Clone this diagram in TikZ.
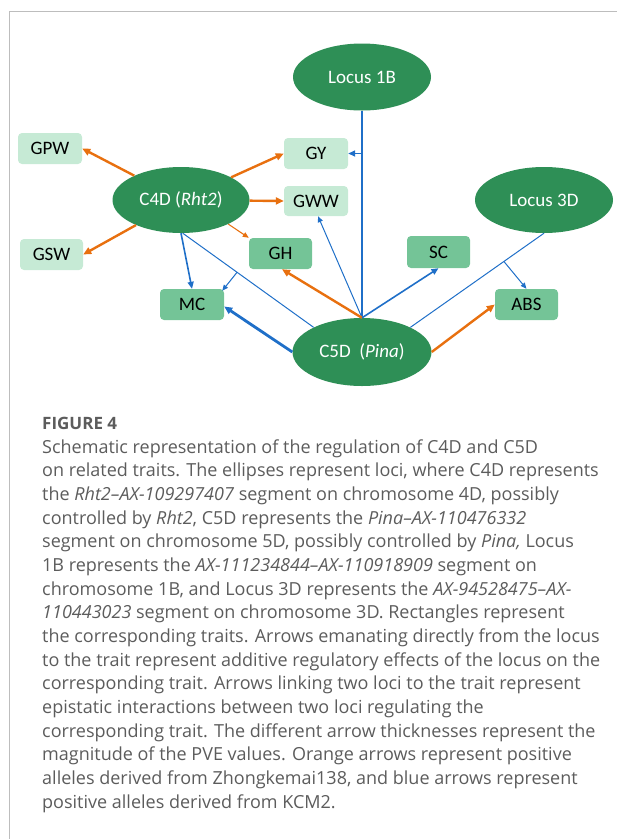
\documentclass[tikz,border=0pt]{standalone}
\usepackage{fontspec}
\setmainfont{Open Sans}
\newfontfamily\labelfont{Carlito}
\usetikzlibrary{shapes.geometric,arrows.meta}
\definecolor{locgreen}{HTML}{2E8F56}
\definecolor{lightbox}{HTML}{C6EAD5}
\definecolor{midbox}{HTML}{74C497}
\definecolor{orng}{HTML}{E8700F}
\definecolor{blu}{HTML}{1F6FC8}
\definecolor{captiongray}{HTML}{5C5C5C}
\definecolor{framegray}{HTML}{BDBDBD}
\tikzset{
  locus/.style={ellipse, fill=locgreen, draw=none, text=white, inner sep=0pt,
    font=\labelfont\fontsize{19}{22}\selectfont},
  traitlight/.style={rectangle, rounded corners=4pt, fill=lightbox, draw=none, inner sep=0pt,
    minimum width=64pt, minimum height=31pt, font=\labelfont\fontsize{19}{22}\selectfont},
  traitmid/.style={traitlight, fill=midbox},
  otip/.style={-{Triangle[length=8pt,width=7pt]}},
  thicko/.style={draw=orng, line width=2.4pt, otip},
  thino/.style={draw=orng, line width=1.1pt, -{Triangle[length=6pt,width=5pt]}},
  thinb/.style={draw=blu, line width=1pt},
  thinbarr/.style={draw=blu, line width=1pt, -{Triangle[length=6pt,width=5pt]}},
  medb/.style={draw=blu, line width=1.6pt, -{Triangle[length=7pt,width=6pt]}},
  thickb/.style={draw=blu, line width=2.8pt, -{Triangle[length=8pt,width=7pt]}},
  capline/.style={anchor=base west, inner sep=0pt, text=captiongray,
    font=\fontsize{18}{20}\selectfont},
}
\begin{document}
\begin{tikzpicture}[x=1pt,y=-1pt]
\useasboundingbox (0,0) rectangle (617,839);
\draw[framegray, line width=1pt] (617,11) -- (9,11) -- (9,839);

% loci
\node[locus, minimum width=138pt, minimum height=67pt] (L1B) at (362,77) {Locus 1B};
\node[locus, minimum width=137pt, minimum height=66pt] (C4D) at (181,200) {C4D (\textit{Rht2})};
\node[locus, minimum width=138pt, minimum height=66pt] (L3D) at (544,200) {Locus 3D};
\node[locus, minimum width=139pt, minimum height=68pt] (C5D) at (362,352) {C5D\ \ (\textit{Pina})};

% traits
\node[traitlight] (GPW) at (50,148.5) {GPW};
\node[traitlight] (GY) at (316,153.5) {GY};
\node[traitlight, minimum height=30pt] (GWW) at (316,201) {GWW};
\node[traitlight, minimum width=63pt] (GSW) at (51.5,254.5) {GSW};
\node[traitmid, minimum width=63pt] (GH) at (280.5,253.5) {GH};
\node[traitmid] (MC) at (192,304.5) {MC};
\node[traitmid, minimum width=63pt, minimum height=32pt] (SC) at (438.5,252) {SC};
\node[traitmid, minimum width=63pt] (ABS) at (526.5,304.5) {ABS};

% C4D additive
\draw[thicko] (C4D) -- (GPW.east);
\draw[thicko] (C4D) -- (GY.west);
\draw[thicko] (C4D) -- (GWW.west);
\draw[thicko] (C4D) -- (GSW.east);
\draw[thino] (C4D.-27) -- (GH.north west);
\draw[medb] (C4D.south) -- (MC.north);

% epistasis C4D x C5D -> MC
\draw[thinb] (C4D.-87) -- coordinate[pos=0.415] (e1) (C5D.153);
\draw[thinbarr] (e1) -- ([xshift=-2pt,yshift=-2pt]MC.north east);

% epistasis Locus1B x C5D -> GY
\draw[blu, line width=1.6pt] (L1B.south) -- (C5D.north);
\coordinate (e2) at (L1B.south |- GY.east);
\draw[medb] (e2) -- (GY.east);

% C5D additive
\draw[thinbarr] (C5D.north) -- ([xshift=2pt]GWW.south);
\draw[thicko] (C5D.north) -- ([xshift=1.5pt]GH.south);
\draw[medb] (C5D.north) -- (SC.south);
\draw[thickb] (C5D.west) -- ([yshift=-2pt]MC.east);
\draw[thicko] (C5D.east) -- (ABS.west);

% epistasis Locus3D x C5D -> ABS
\draw[thinb] (L3D.south) -- coordinate[pos=0.3] (e3) (C5D.27);
\draw[thinbarr] (e3) -- (ABS.north);

% caption
\node[anchor=base west, inner sep=0pt, text=captiongray, font=\bfseries\fontsize{17}{20}\selectfont] (fig) at (42,429) {FIGURE 4};
\node[capline] (c1) at (42,453) {Schematic representation of the regulation of C4D and C5D};
\node[capline] (c2) at (42,476.6) {on related traits. The ellipses represent loci, where C4D represents};
\node[capline] (c3) at (42,500.3) {the \textit{Rht2–AX-109297407} segment on chromosome 4D, possibly};
\node[capline] (c4) at (42,524) {controlled by \textit{Rht2}, C5D represents the \textit{Pina–AX-110476332}};
\node[capline] (c5) at (42,547.6) {segment on chromosome 5D, possibly controlled by \textit{Pina,} Locus};
\node[capline] (c6) at (42,571.3) {1B represents the \textit{AX-111234844–AX-110918909} segment on};
\node[capline] (c7) at (42,595) {chromosome 1B, and Locus 3D represents the \textit{AX-94528475–AX-}};
\node[capline] (c8) at (42,618.6) {\textit{110443023} segment on chromosome 3D. Rectangles represent};
\node[capline] (c9) at (42,642.3) {the corresponding traits. Arrows emanating directly from the locus};
\node[capline] (c10) at (42,666) {to the trait represent additive regulatory effects of the locus on the};
\node[capline] (c11) at (42,689.6) {corresponding trait. Arrows linking two loci to the trait represent};
\node[capline] (c12) at (42,713.3) {epistatic interactions between two loci regulating the};
\node[capline] (c13) at (42,737) {corresponding trait. The different arrow thicknesses represent the};
\node[capline] (c14) at (42,760.6) {magnitude of the PVE values. Orange arrows represent positive};
\node[capline] (c15) at (42,784.3) {alleles derived from Zhongkemai138, and blue arrows represent};
\node[capline] (c16) at (42,808) {positive alleles derived from KCM2.};
\end{tikzpicture}
\end{document}
